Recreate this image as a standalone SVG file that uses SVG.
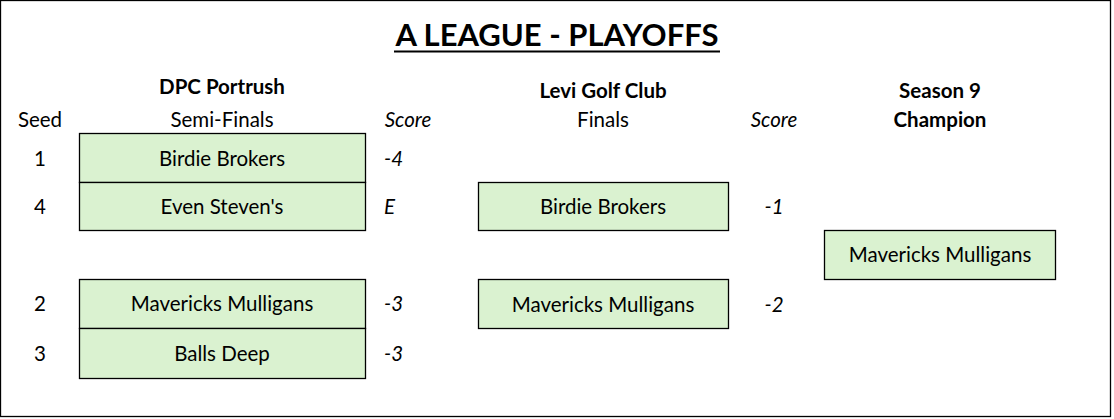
<svg xmlns="http://www.w3.org/2000/svg" width="1114" height="419" viewBox="0 0 1114 419">
<style>
text{font-family:"Lato","Liberation Sans",sans-serif;font-size:20.5px;fill:#000}
.c{text-anchor:middle}
.b{font-weight:bold}
.i{font-style:italic}
.box{fill:#DAF2D0;stroke:#000;stroke-width:1.3}
</style>
<rect x="0.5" y="0.5" width="1110" height="416" fill="#fff" stroke="#000" stroke-width="1.3"/>
<g id="title">
<text x="557" y="46" class="c b" style="font-size:31px">A LEAGUE - PLAYOFFS</text>
<line x1="394" y1="51.5" x2="720" y2="51.5" stroke="#000" stroke-width="2"/>
</g>
<g id="headers">
<text x="222" y="94" class="c b">DPC Portrush</text>
<text x="40" y="127" class="c">Seed</text>
<text x="222" y="127" class="c">Semi-Finals</text>
<text x="408" y="127" class="c i">Score</text>
<text x="603" y="98" class="c b">Levi Golf Club</text>
<text x="603" y="127" class="c">Finals</text>
<text x="774" y="127" class="c i">Score</text>
<text x="940" y="98" class="c b">Season 9</text>
<text x="940" y="127" class="c b">Champion</text>
</g>
<g id="seeds">
<text x="40" y="165.5" class="c">1</text>
<text x="40" y="214" class="c">4</text>
<text x="40" y="311" class="c">2</text>
<text x="40" y="360.5" class="c">3</text>
</g>
<g id="semi1">
<rect class="box" x="79.5" y="133.5" width="286" height="49"/>
<text x="222" y="165.5" class="c">Birdie Brokers</text>
<text x="384" y="165.5" class="i">-4</text>
</g>
<g id="semi2">
<rect class="box" x="79.5" y="182.5" width="286" height="48"/>
<text x="222" y="214" class="c">Even Steven's</text>
<text x="384" y="214" class="i">E</text>
</g>
<g id="semi3">
<rect class="box" x="79.5" y="279.5" width="286" height="49"/>
<text x="222" y="311" class="c">Mavericks Mulligans</text>
<text x="384" y="311" class="i">-3</text>
</g>
<g id="semi4">
<rect class="box" x="79.5" y="328.5" width="286" height="50"/>
<text x="222" y="360.5" class="c">Balls Deep</text>
<text x="384" y="360.5" class="i">-3</text>
</g>
<g id="final1">
<rect class="box" x="478.5" y="182.5" width="250" height="48"/>
<text x="603" y="214" class="c">Birdie Brokers</text>
<text x="774" y="214" class="c i">-1</text>
</g>
<g id="final2">
<rect class="box" x="478.5" y="279.5" width="250" height="49"/>
<text x="603" y="311.5" class="c">Mavericks Mulligans</text>
<text x="774" y="311.5" class="c i">-2</text>
</g>
<g id="champion">
<rect class="box" x="824.5" y="230.5" width="231" height="49"/>
<text x="940" y="262" class="c">Mavericks Mulligans</text>
</g>
<g id="connectors"></g>
</svg>
